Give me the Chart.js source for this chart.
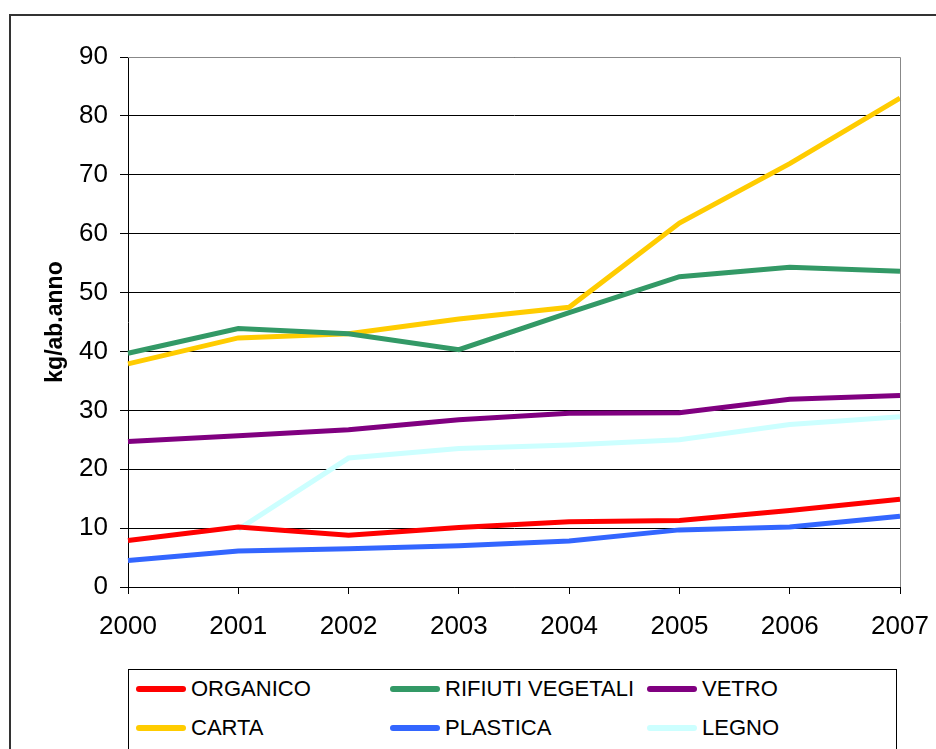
<!DOCTYPE html>
<html>
<head>
<meta charset="utf-8">
<script src="https://cdn.jsdelivr.net/npm/chart.js@4"></script>
<style>
  html, body { margin:0; padding:0; background:#fff; }
  body { width:936px; height:749px; overflow:hidden; position:relative; font-family:"Liberation Sans", Arial, sans-serif; }
  #c { position:absolute; left:0; top:0; }
  #frame { position:absolute; left:9px; top:14px; width:1000px; height:1000px; border:2px solid #333; box-sizing:border-box; pointer-events:none; }
  #legend { position:absolute; left:128px; top:669px; width:769px; height:200px; border:1px solid #000; box-sizing:border-box; background:#fff; }
  .li { position:absolute; height:30px; display:flex; align-items:center; font-size:22px; color:#000; white-space:nowrap; }
  .li .sw { width:50px; height:6px; border-radius:3px; margin-right:5px; flex:none; }
</style>
</head>
<body>
<canvas id="c" width="936" height="749"></canvas>
<div id="frame"></div>
<div id="legend"></div>
<script>
const years = ["2000","2001","2002","2003","2004","2005","2006","2007"];
const yTicks = [0,10,20,30,40,50,60,70,80,90];
const seriesNames = ["ORGANICO","RIFIUTI VEGETALI","VETRO","CARTA","PLASTICA","LEGNO"];
const organico = [7.9, 10.2, 8.8, 10.1, 11.1, 11.3, 13.0, 14.9];
const rifiutiVegetali = [39.7, 43.9, 43.0, 40.3, 46.6, 52.7, 54.3, 53.6];
const vetro = [24.7, 25.7, 26.7, 28.4, 29.5, 29.6, 31.9, 32.5];
const carta = [37.9, 42.3, 43.0, 45.5, 47.5, 61.8, 71.9, 83.0];
const plastica = [4.5, 6.1, 6.5, 7.0, 7.8, 9.7, 10.2, 12.0];
const legno = [null, 9.8, 21.9, 23.5, 24.1, 25.0, 27.6, 28.9];
const seriesValues = [organico, rifiutiVegetali, vetro, carta, plastica, legno];
const seriesColors = ["#FF0000","#339966","#800080","#FFCC00","#3366FF","#CCFFFF"];

const FONT = '"Liberation Sans", Arial, sans-serif';

const plotBorder = {
  id: 'plotBorder',
  afterDatasetsDraw(chart) {
    const {ctx, chartArea:a} = chart;
    ctx.save();
    ctx.strokeStyle = '#888';
    ctx.lineWidth = 1;
    ctx.beginPath();
    ctx.moveTo(a.left, a.top + 0.5);
    ctx.lineTo(a.right + 0.5, a.top + 0.5);
    ctx.lineTo(a.right + 0.5, a.bottom);
    ctx.stroke();
    ctx.restore();
  }
};

new Chart(document.getElementById('c'), {
  type: 'line',
  data: {
    labels: years,
    datasets: seriesNames.map((n, i) => ({
      label: n,
      data: seriesValues[i],
      borderColor: seriesColors[i],
      backgroundColor: seriesColors[i],
      borderWidth: 5,
      pointRadius: 0,
      tension: 0,
      spanGaps: false,
      fill: false
    }))
  },
  options: {
    responsive: false,
    devicePixelRatio: 1,
    animation: false,
    layout: { padding: { left: 0, right: 36, top: 57, bottom: 0 } },
    plugins: { legend: { display: false }, tooltip: { enabled: false } },
    scales: {
      x: {
        type: 'category',
        offset: false,
        grid: { drawOnChartArea: false, drawTicks: true, tickLength: 7, color: '#000' },
        border: { display: true, color: '#000', width: 1 },
        ticks: { font: { family: FONT, size: 26 }, color: '#000', padding: 17, maxRotation: 0, autoSkip: false },
        afterFit(s) { s.height = 162; s.paddingLeft = 0; s.paddingRight = 0; }
      },
      y: {
        min: 0, max: 90,
        afterBuildTicks(s) { s.ticks = yTicks.map(v => ({ value: v })); },
        grid: { color: '#000', lineWidth: 1, drawTicks: true, tickLength: 8 },
        border: { display: true, color: '#000', width: 1 },
        ticks: { font: { family: FONT, size: 26 }, color: '#000', padding: 12 },
        title: { display: true, text: 'kg/ab.anno', color: '#000', font: { family: FONT, size: 23, weight: 'bold' }, padding: { top: 42, bottom: 0 } },
        afterFit(s) { s.width = 128; s.paddingTop = 0; s.paddingBottom = 0; }
      }
    }
  },
  plugins: [plotBorder]
});

// legend built from the series arrays
const lg = document.getElementById('legend');
const colX = [7, 261, 518];
const rowY = [4, 43];
seriesNames.forEach((n, i) => {
  const d = document.createElement('div');
  d.className = 'li';
  d.style.left = colX[i % 3] + 'px';
  d.style.top = rowY[Math.floor(i / 3)] + 'px';
  const sw = document.createElement('span');
  sw.className = 'sw';
  sw.style.background = seriesColors[i];
  const t = document.createElement('span');
  t.textContent = n;
  d.appendChild(sw); d.appendChild(t);
  lg.appendChild(d);
});
</script>
</body>
</html>
